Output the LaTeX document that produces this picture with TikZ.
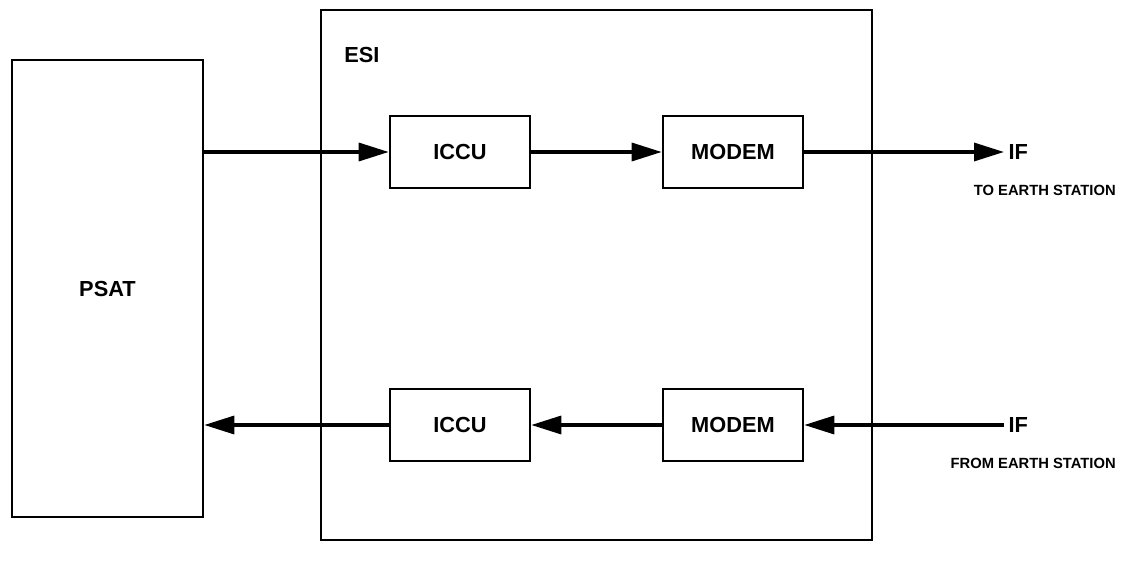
\documentclass[tikz,border=0pt]{standalone}
\usepackage{fontspec}
\setmainfont{Liberation Sans}
\usepackage{tikz}
\usetikzlibrary{arrows.meta, positioning}

\begin{document}
\begin{tikzpicture}[
  x=0.025cm, y=-0.025cm,
  unit/.style={rectangle, draw, line width=1.8pt, minimum width=3.5cm, minimum height=1.8cm,
    inner sep=0pt, font=\fontsize{15.5}{18}\selectfont\bfseries},
  frame/.style={rectangle, draw, line width=1.8pt, inner sep=0pt},
  flow/.style={line width=2.4pt, -{Triangle[length=0.75cm, width=0.45cm]}},
  lbl/.style={font=\fontsize{15.5}{18}\selectfont\bfseries, inner sep=0pt},
  sub/.style={font=\fontsize{10.5}{13}\selectfont\bfseries, inner sep=0pt},
]
  \useasboundingbox (0,0) rectangle (1125,565);
  % outer blocks
  \node[frame, minimum width=4.775cm, minimum height=11.425cm, font=\fontsize{15.5}{18}\selectfont\bfseries] (psat) at (107.5,288.5) {PSAT};
  \node[frame, minimum width=13.775cm, minimum height=13.25cm] (esi) at (596.5,275) {};
  \node[lbl, anchor=west] (esilbl) at (344,55) {ESI};
  % transmit chain
  \node[unit] (iccuT) at (460,152) {ICCU};
  \node[unit] (modemT) at (733,152) {MODEM};
  \node[lbl, anchor=west, inner xsep=3pt] (ifT) at (1004,152) {IF};
  \node[sub, anchor=east] (toES) at (1116,190) {TO EARTH STATION};
  % receive chain
  \node[unit] (iccuB) at (460,425) {ICCU};
  \node[unit] (modemB) at (733,425) {MODEM};
  \node[lbl, anchor=west, inner xsep=3pt] (ifB) at (1004,425) {IF};
  \node[sub, anchor=east] (fromES) at (1116,463) {FROM EARTH STATION};

  \draw[flow] (psat.east |- iccuT.west) -- (iccuT.west);
  \draw[flow] (iccuT) -- (modemT);
  \draw[flow] (modemT) -- (ifT.west);
  \draw[flow] (ifB.west) -- (modemB);
  \draw[flow] (modemB) -- (iccuB);
  \draw[flow] (iccuB.west) -- (psat.east |- iccuB.west);
\end{tikzpicture}
\end{document}
